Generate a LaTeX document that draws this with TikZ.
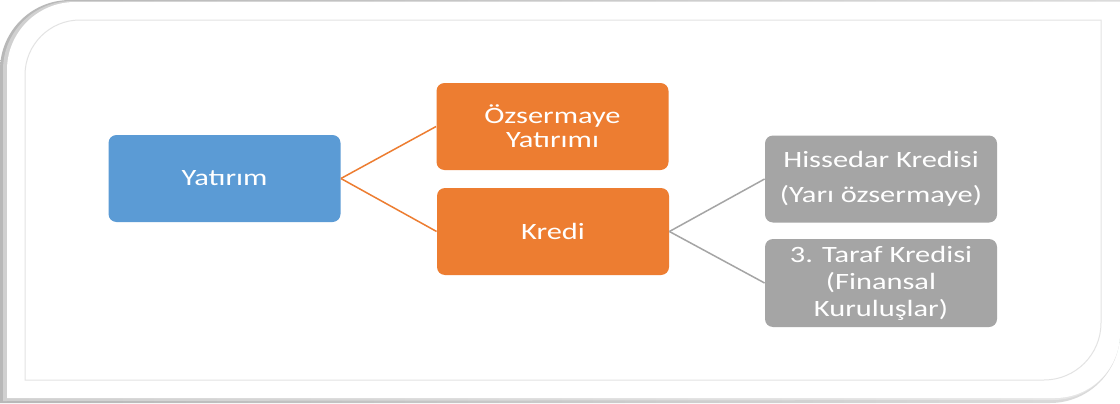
\documentclass[tikz,border=0pt]{standalone}
\usepackage{fontspec}
\newfontfamily\boxfont[FakeStretch=1.3]{Carlito}
\definecolor{cblue}{HTML}{5B9BD5}
\definecolor{corange}{HTML}{ED7D31}
\definecolor{cgray}{HTML}{A5A5A5}
\begin{document}
\begin{tikzpicture}[x=0.5pt,y=0.5pt,
  box/.style={rounded corners=4pt, minimum width=116pt, minimum height=43.5pt,
    inner sep=0pt, align=center, text=white},
  bluebox/.style={box, fill=cblue},
  orangebox/.style={box, fill=corange},
  graybox/.style={box, fill=cgray},
  oline/.style={draw=corange, line width=0.75pt},
  gline/.style={draw=cgray, line width=0.75pt},
  frameline/.style={draw=black!11, line width=0.5pt}]
\useasboundingbox (0,0) rectangle (1120,403);
\fill[white] (0,0) rectangle (1120,403);
% shadow (soft, layered)
\shade[left color=black!28, right color=black!14]
  (0,0) -- (0,333) arc[start angle=180,end angle=90,radius=35pt] -- (1120,403)
  -- (1120,70) arc[start angle=0,end angle=-90,radius=35pt] -- cycle;
\fill[white, opacity=0.35]
  (3,2) -- (3,333) arc[start angle=180,end angle=90,radius=34.5pt] -- (1120,402)
  -- (1120,70) arc[start angle=0,end angle=-90,radius=33.5pt] -- cycle;
% outer white panel
\fill[white]
  (7,5) -- (7,333) arc[start angle=180,end angle=90,radius=34pt] -- (1120,401)
  -- (1120,70) arc[start angle=0,end angle=-90,radius=32.5pt] -- cycle;
\fill[white] (1117,70) rectangle (1120,401);
% inner border
\draw[frameline]
  (25,23) -- (25,328) arc[start angle=180,end angle=90,radius=27.5pt] -- (1101,383)
  -- (1101,80) arc[start angle=0,end angle=-90,radius=28.5pt] -- cycle;
% nodes
\node[bluebox, font=\boxfont\fontsize{11.7pt}{12pt}\selectfont] (yat) at (224.5,224.5) {Yatırım};
\node[orangebox, font=\boxfont\fontsize{11.7pt}{12pt}\selectfont] (ozs) at (552.5,276.5) {Özsermaye\\Yatırımı};
\node[orangebox, font=\boxfont\fontsize{11.7pt}{12pt}\selectfont] (kre) at (553,171.5) {Kredi};
\node[graybox, font=\boxfont\fontsize{11.7pt}{17.5pt}\selectfont] (his) at (881,224) {Hissedar Kredisi\\(Yarı özsermaye)};
\node[graybox, minimum height=44pt, font=\boxfont\fontsize{11.7pt}{13.5pt}\selectfont] (tar) at (881,120) {3. Taraf Kredisi\\(Finansal\\Kuruluşlar)};
% connectors
\draw[oline] (yat.east) -- (ozs.west);
\draw[oline] (yat.east) -- (kre.west);
\draw[gline] (kre.east) -- (his.west);
\draw[gline] (kre.east) -- (tar.west);
\end{tikzpicture}
\end{document}
